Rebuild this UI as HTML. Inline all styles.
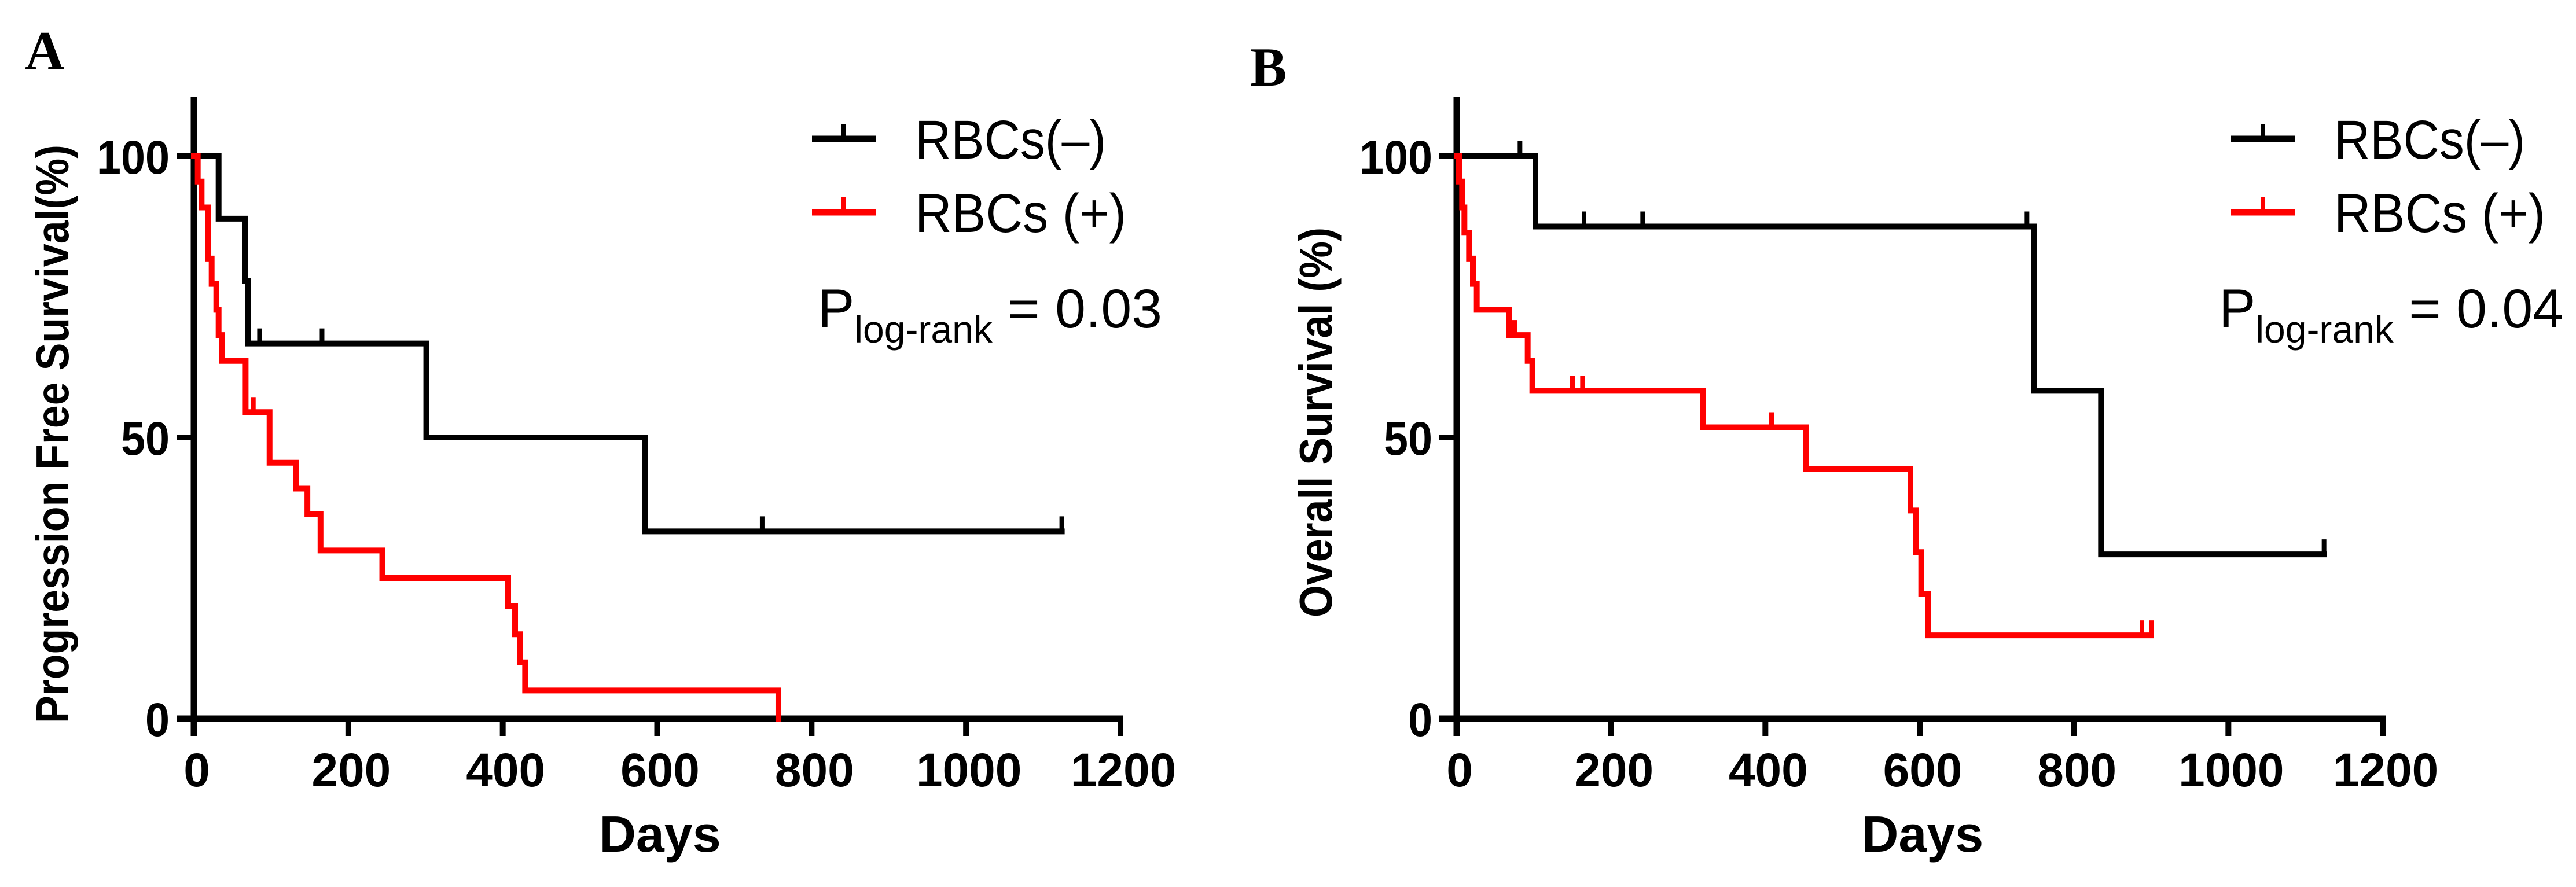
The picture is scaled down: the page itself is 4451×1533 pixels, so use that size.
<!DOCTYPE html>
<html><head><meta charset="utf-8">
<style>
html,body{margin:0;padding:0;background:#fff;}
svg{display:block;}
</style></head>
<body>
<svg id="chart" width="4451" height="1533" viewBox="0 0 4451 1533" xmlns="http://www.w3.org/2000/svg" font-family="Liberation Sans, Arial, sans-serif">
<rect width="4451" height="1533" fill="#fff"/>
<text x="43" y="120" style="font-family:'Liberation Serif',serif" font-weight="bold" font-size="95">A</text>
<text x="2160" y="148" style="font-family:'Liberation Serif',serif" font-weight="bold" font-size="95">B</text>
</svg>
<script>
// ---- data ----
const xTicks = [0, 200, 400, 600, 800, 1000, 1200];
const yTicks = [0, 50, 100];

// Panel A: Progression free survival
const aNegTimes = [32, 66, 70, 301, 584];
const aNegSurv  = [88.9, 77.8, 66.7, 50, 33.3];
const aNegEnd   = 1124;
const aNegCens  = [85, 166, 736, 1124];
const aNegCensSurv = [66.7, 66.7, 33.3, 33.3];

const aPosTimes = [5, 10, 18, 23, 29, 32, 36, 67, 98, 132, 147, 164, 244, 407, 416, 422, 429, 757];
const aPosSurv  = [95.5, 90.9, 81.8, 77.3, 72.7, 68.2, 63.6, 54.5, 45.5, 40.9, 36.4, 29.9, 25.0, 20.0, 15.0, 10.0, 5.0, 0];
const aPosEnd   = 757;
const aPosCens  = [77];
const aPosCensSurv = [54.5];

// Panel B: Overall survival
const bNegTimes = [102, 748, 835];
const bNegSurv  = [87.5, 58.3, 29.2];
const bNegEnd   = 1124;
const bNegCens  = [82, 165, 241, 739, 1124];
const bNegCensSurv = [100, 87.5, 87.5, 87.5, 29.2];

const bPosTimes = [3, 7, 10, 16, 21, 26, 68, 92, 98, 319, 453, 588, 595, 602, 611];
const bPosSurv  = [95.5, 90.9, 86.4, 81.8, 77.3, 72.7, 68.2, 63.6, 58.3, 51.8, 44.4, 37.0, 29.6, 22.2, 14.8];
const bPosEnd   = 900;
const bPosCens  = [75, 150, 163, 408, 888, 900];
const bPosCensSurv = [68.2, 58.3, 58.3, 51.8, 14.8, 14.8];

const NS = "http://www.w3.org/2000/svg";
const svg = document.getElementById("chart");

function mk(tag, attrs, parent) {
  const e = document.createElementNS(NS, tag);
  for (const k in attrs) e.setAttribute(k, attrs[k]);
  (parent || svg).appendChild(e);
  return e;
}

function panel(p) {
  const g = mk("g", {});
  
  
  const sx = d => p.x0 + (d / 1200) * (p.x1 - p.x0);
  const sy = v => p.y0 - (v / 100) * (p.y0 - p.y100);

  const ya = mk("line", {x1: p.x0, y1: 168, x2: p.x0, y2: p.y0 + 30, stroke: "#000", "stroke-width": 11}, g);
  
  
  const xa = mk("line", {x1: p.x0 - 30, y1: p.y0, x2: sx(1200) + 5, y2: p.y0, stroke: "#000", "stroke-width": 11}, g);
  
  

  xTicks.forEach(t => {
    const l = mk("line", {x1: sx(t), y1: p.y0, x2: sx(t), y2: p.y0 + 30, stroke: "#000", "stroke-width": 10}, g);
    
    
    const tx = mk("text", {x: sx(t) + 5, y: 1359, "font-size": 82, "font-weight": "bold", "text-anchor": "middle"}, g);
    tx.textContent = t;
    
    
  });
  yTicks.forEach(t => {
    const l = mk("line", {x1: p.x0 - 30, y1: sy(t), x2: p.x0, y2: sy(t), stroke: "#000", "stroke-width": 10}, g);
    
    
    const s = String(t);
    const tx = mk("text", {x: p.x0 - 42, y: sy(t) + 30, "font-size": 82, "font-weight": "bold", "text-anchor": "end", textLength: s.length * 42, lengthAdjust: "spacingAndGlyphs"}, g);
    tx.textContent = s;
    
    
  });

  const xt = mk("text", {x: sx(600) + 5, y: 1472, "font-size": 88, "font-weight": "bold", "text-anchor": "middle"}, g);
  xt.textContent = "Days";
  
  

  const yt = mk("text", {x: 0, y: 0, "font-size": 80, "font-weight": "bold", "text-anchor": "middle",
    textLength: p.ytLen, lengthAdjust: "spacingAndGlyphs",
    transform: `translate(${p.ytX},${p.ytY}) rotate(-90)`}, g);
  yt.textContent = p.ytitle;
  
  

  function series(times, surv, end, cens, censSurv, color, nm) {
    let d = `M${sx(0)},${sy(100)}`;
    times.forEach((t, i) => {
      d += ` H${sx(t)} V${sy(surv[i])}`;
    });
    if (sx(end) > sx(times[times.length - 1])) d += ` H${sx(end)}`;
    const path = mk("path", {d: d, fill: "none", stroke: color, "stroke-width": 10, "stroke-linejoin": "miter", "stroke-linecap": "square"}, g);
    
    
    cens.forEach((c, i) => {
      const m = mk("line", {x1: sx(c), y1: sy(censSurv[i]), x2: sx(c), y2: sy(censSurv[i]) - 26, stroke: color, "stroke-width": 8}, g);
      
      
    });
  }
  series(p.negT, p.negS, p.negE, p.negC, p.negCS, "#000", "rbcs-negative");
  series(p.posT, p.posS, p.posE, p.posC, p.posCS, "#ff0000", "rbcs-positive");

  [["RBCs(–)", "#000", 240, 330], ["RBCs (+)", "#ff0000", 367, 365]].forEach((L, i) => {
    const lg = mk("g", {}, g);
    
    
    mk("line", {x1: p.lx, y1: L[2], x2: p.lx + 111, y2: L[2], stroke: L[1], "stroke-width": 11}, lg);
    mk("line", {x1: p.lx + 55, y1: L[2], x2: p.lx + 55, y2: L[2] - 26, stroke: L[1], "stroke-width": 8}, lg);
    const t = mk("text", {x: p.lx + 178, y: L[2] + 34, "font-size": 95, textLength: L[3], lengthAdjust: "spacingAndGlyphs"}, lg);
    t.textContent = L[0];
  });
  const pt = mk("text", {x: p.px, y: 566, "font-size": 95}, g);
  
  
  const t1 = mk("tspan", {}, pt); t1.textContent = "P";
  const t2 = mk("tspan", {dy: 26, "font-size": 66}, pt); t2.textContent = "log-rank";
  const t3 = mk("tspan", {dy: -26}, pt); t3.textContent = " = " + p.pval;
}

panel({name: "panel-a-pfs", x0: 335, x1: 1936, y0: 1242, y100: 270,
  ytitle: "Progression Free Survival(%)", ytX: 118, ytY: 750, ytLen: 1000,
  negT: aNegTimes, negS: aNegSurv, negE: aNegEnd, negC: aNegCens, negCS: aNegCensSurv,
  posT: aPosTimes, posS: aPosSurv, posE: aPosEnd, posC: aPosCens, posCS: aPosCensSurv,
  lx: 1403, px: 1413, pval: "0.03"});
panel({name: "panel-b-os", x0: 2517, x1: 4117, y0: 1242, y100: 270,
  ytitle: "Overall Survival (%)", ytX: 2301, ytY: 730, ytLen: 674,
  negT: bNegTimes, negS: bNegSurv, negE: bNegEnd, negC: bNegCens, negCS: bNegCensSurv,
  posT: bPosTimes, posS: bPosSurv, posE: bPosEnd, posC: bPosCens, posCS: bPosCensSurv,
  lx: 3855, px: 3834, pval: "0.04"});
</script>
</body></html>
